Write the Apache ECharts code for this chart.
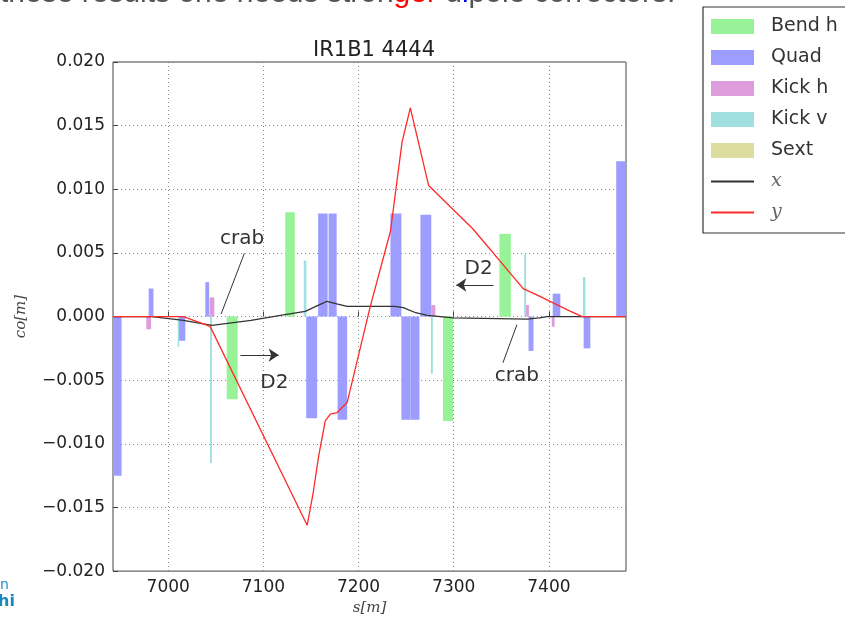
<!DOCTYPE html>
<html>
<head>
<meta charset="utf-8">
<script src="https://cdn.jsdelivr.net/npm/echarts@6/dist/echarts.min.js"></script>
<style>
  html, body { margin: 0; background: #fff; }
  #main { width: 845px; height: 621px; }
</style>
</head>
<body>
<div id="main"></div>
<script>
// element blocks: [s start, s end, value]
const bendH = [[7061.5, 7073, -0.0065], [7123, 7133, 0.0082], [7288.7, 7299.2, -0.0082], [7348, 7360, 0.0065]];
const quad = [
  [6938, 6951, -0.0125], [6979.5, 6984.5, 0.0022], [7011, 7018, -0.0019], [7039, 7043, 0.0027],
  [7145, 7156.5, -0.008], [7157.5, 7167.5, 0.0081], [7168.5, 7177, 0.0081], [7178, 7188, -0.0081],
  [7233.5, 7245, 0.0081], [7245, 7254.5, -0.0081], [7254.5, 7264, -0.0081], [7265, 7276.4, 0.008],
  [7378.6, 7383.8, -0.0027], [7404, 7412, 0.0018], [7436.5, 7443.5, -0.0025], [7470.7, 7486, 0.0122]
];
const kickH = [[6977, 6982, -0.001], [7043.5, 7048.5, 0.0015], [7276.4, 7280.7, 0.0009], [7376, 7379, 0.0009], [7403, 7406, -0.0008]];
const kickV = [[7010, 7011.5, -0.0024], [7044, 7046, -0.0115], [7142.4, 7145.2, 0.0044], [7276, 7278, -0.0045], [7374, 7376, 0.0049], [7435.7, 7438.4, 0.0031]];
const sext = [];

// orbit x and y along s
const orbitX = [
  [6942, 0], [6983, 0], [7016, -0.0003], [7046, -0.0007], [7087, -0.0003], [7121, 0.00014],
  [7144, 0.0004], [7158, 0.0009], [7167, 0.0012], [7177, 0.001], [7188, 0.0008], [7238, 0.0008],
  [7247, 0.0007], [7260, 0.0003], [7272, 0.0001], [7300, -0.0001], [7377, -0.0002], [7390, -0.0001],
  [7398, 0], [7481, 0]
];
const orbitY = [
  [6942, 0], [7016, 0], [7044, -0.00077], [7146, -0.0164], [7152, -0.014], [7158, -0.011],
  [7165, -0.0082], [7170.4, -0.00767], [7177.4, -0.00754], [7188, -0.00676], [7212, 0.0007],
  [7233.5, 0.0067], [7245.7, 0.0137], [7254.4, 0.0164], [7273.6, 0.0103], [7320, 0.0069],
  [7373, 0.0022], [7390, 0.0016], [7405, 0.00105], [7420, 0.0005], [7435, 0], [7481, 0]
];

const xTicks = [7000, 7100, 7200, 7300, 7400];

const colors = {
  'Bend h': '#98f398',
  'Quad': '#9d9dff',
  'Kick h': '#dd9ddd',
  'Kick v': '#a0e0e0',
  'Sext': '#dcdc9e'
};

function blockSeries(name, data) {
  return {
    name: name,
    type: 'custom',
    clip: true,
    itemStyle: { color: colors[name] },
    encode: { x: [0, 1], y: 2 },
    data: data,
    renderItem: function (params, api) {
      let p0 = api.coord([api.value(0), api.value(2)]);
      let p1 = api.coord([api.value(1), 0]);
      return {
        type: 'rect',
        shape: {
          x: Math.min(p0[0], p1[0]),
          y: Math.min(p0[1], p1[1]),
          width: Math.abs(p1[0] - p0[0]),
          height: Math.abs(p1[1] - p0[1])
        },
        style: { fill: colors[name] }
      };
    }
  };
}

let myChart = echarts.init(document.getElementById('main'));

let lineIcon = 'path://M0,0H31V1.6H0Z';

let option = {
  animation: false,
  title: {
    text: 'IR1B1 4444',
    left: 369,
    textAlign: 'center',
    top: 35,
    textStyle: { fontFamily: 'DejaVu Sans', fontSize: 21, fontWeight: 'normal', color: '#222' }
  },
  legend: {
    orient: 'vertical',
    left: 703,
    top: 7,
    padding: [10, 8, 8, 8],
    itemWidth: 43,
    itemHeight: 15,
    itemGap: 12,
    selectedMode: false,
    textStyle: { fontFamily: 'DejaVu Sans', fontSize: 19, color: '#333', padding: [0, 0, 0, 12] },
    data: [
      { name: 'Bend h', icon: 'rect' },
      { name: 'Quad', icon: 'rect' },
      { name: 'Kick h', icon: 'rect' },
      { name: 'Kick v', icon: 'rect' },
      { name: 'Sext', icon: 'rect' },
      { name: 'x', icon: lineIcon, textStyle: { fontFamily: 'DejaVu Serif', fontStyle: 'italic', color: '#666' } },
      { name: 'y', icon: lineIcon, textStyle: { fontFamily: 'DejaVu Serif', fontStyle: 'italic', color: '#666' } }
    ]
  },
  grid: {
    left: 113, right: 219, top: 62, bottom: 46,
    show: true, borderColor: '#444', borderWidth: 1
  },
  xAxis: {
    type: 'value',
    min: 6942,
    max: 7481,
    name: 's[m]',
    nameLocation: 'middle',
    nameGap: 25,
    nameTextStyle: { fontFamily: 'DejaVu Serif', fontStyle: 'italic', fontSize: 15, color: '#444' },
    axisLine: { show: false },
    axisTick: { show: true, inside: true, length: 5, customValues: xTicks, lineStyle: { color: '#444' } },
    axisLabel: {
      customValues: xTicks, fontFamily: 'DejaVu Sans', fontSize: 17, color: '#222', margin: 8,
      formatter: v => String(v)
    },
    splitLine: { show: true, lineStyle: { type: [1, 3], color: '#888' } }
  },
  yAxis: {
    type: 'value',
    min: -0.02,
    max: 0.02,
    interval: 0.005,
    name: 'co[m]',
    nameLocation: 'middle',
    nameGap: 84,
    nameTextStyle: { fontFamily: 'DejaVu Serif', fontStyle: 'italic', fontSize: 15, color: '#444' },
    axisLine: { show: false },
    axisTick: { show: true, inside: true, length: 5, lineStyle: { color: '#444' } },
    axisLabel: {
      fontFamily: 'DejaVu Sans', fontSize: 17, color: '#222', margin: 8,
      formatter: v => (v < 0 ? '\u2212' : '') + Math.abs(v).toFixed(3)
    },
    splitLine: { show: true, lineStyle: { type: [1, 3], color: '#888' } }
  },
  graphic: [
    {
      type: 'rect', z: 100,
      shape: { x: 703, y: 7, width: 170, height: 226 },
      style: { fill: 'none', stroke: '#333', lineWidth: 1.2 }
    },
    {
      type: 'text', x: 0, y: -21,
      style: {
        text: '{g|these results one needs stron}{r|ger}{g| d}{b|i}{g|pole correctors.}',
        rich: {
          g: { fontFamily: 'Liberation Sans', fontSize: 30, fill: '#555' },
          r: { fontFamily: 'Liberation Sans', fontSize: 30, fill: '#ff0000' },
          b: { fontFamily: 'Liberation Sans', fontSize: 30, fill: '#0000ff' }
        }
      }
    },
    {
      type: 'text', left: 0, top: 578,
      style: { text: 'n', fontFamily: 'DejaVu Sans', fontSize: 14, fill: '#2a8fc8' }
    },
    {
      type: 'text', left: -2, top: 594,
      style: { text: 'hi', fontFamily: 'DejaVu Sans', fontSize: 16, fontWeight: 'bold', fill: '#1b86c0' }
    }
  ],
  series: [
    blockSeries('Bend h', bendH),
    blockSeries('Quad', quad),
    blockSeries('Kick h', kickH),
    blockSeries('Kick v', kickV),
    blockSeries('Sext', sext),
    {
      name: 'x',
      type: 'line',
      symbol: 'none',
      data: orbitX,
      lineStyle: { color: '#333', width: 1.3 },
      itemStyle: { color: '#333' },
      markLine: {
        silent: true,
        symbol: ['none', 'none'],
        label: { show: false },
        lineStyle: { color: '#333', width: 1, type: 'solid' },
        data: [
          [{ coord: [7080, 0.00496] }, { coord: [7055.6, 0.0002] }],
          [{ coord: [7351.7, -0.00363] }, { coord: [7366.4, -0.00064] }],
          [{ coord: [7075.9, -0.00303] }, { coord: [7116.1, -0.00303], symbol: 'arrow', symbolSize: 10 }],
          [{ coord: [7341.8, 0.00248] }, { coord: [7302.7, 0.00248], symbol: 'arrow', symbolSize: 10 }]
        ]
      },
      markPoint: {
        silent: true,
        symbol: 'circle',
        symbolSize: 1,
        itemStyle: { color: 'rgba(0,0,0,0)' },
        label: { show: true, position: 'inside', formatter: '{b}', fontFamily: 'DejaVu Sans', fontSize: 20, color: '#333' },
        data: [
          { name: 'crab', coord: [7077.7, 0.00613] },
          { name: 'crab', coord: [7366.4, -0.00467] },
          { name: 'D2', coord: [7111.6, -0.0052] },
          { name: 'D2', coord: [7326.1, 0.00379] }
        ]
      }
    },
    {
      name: 'y',
      type: 'line',
      symbol: 'none',
      data: orbitY,
      lineStyle: { color: '#ff2a2a', width: 1.3 },
      itemStyle: { color: '#ff2a2a' }
    }
  ]
};

myChart.setOption(option);
</script>
</body>
</html>
